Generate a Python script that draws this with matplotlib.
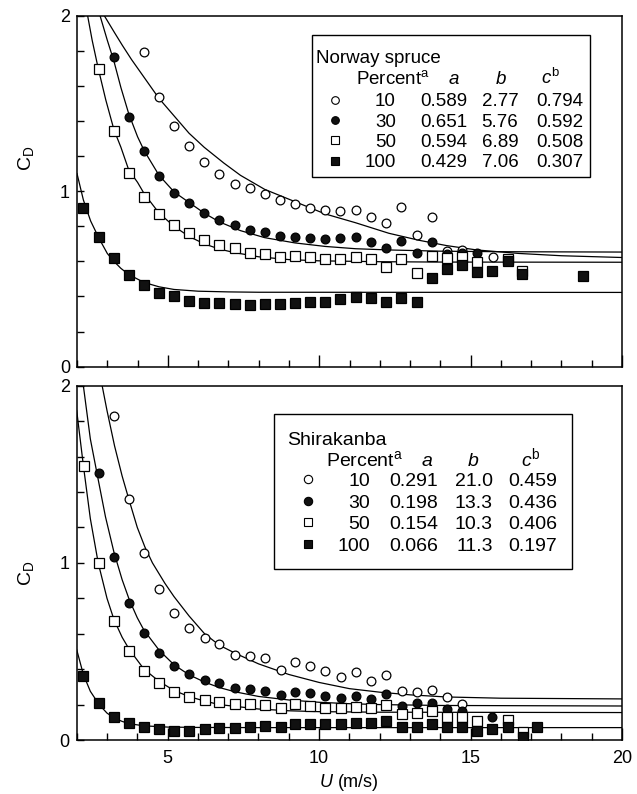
import matplotlib
matplotlib.use("Agg")
import matplotlib.pyplot as plt
from matplotlib.ticker import MultipleLocator
from matplotlib.patches import Rectangle

plt.rcParams['font.family'] = ['Liberation Sans', 'DejaVu Sans']
plt.rcParams['mathtext.fontset'] = 'custom'
plt.rcParams['mathtext.rm'] = 'Liberation Sans'
plt.rcParams['mathtext.it'] = 'Liberation Sans:italic'

# ---- Norway spruce: measured points (U in m/s, C_D) ----
u10_ns = [4.21, 4.71, 5.20, 5.70, 6.21, 6.70, 7.22, 7.71, 8.22, 8.71, 9.20, 9.70,
          10.20, 10.70, 11.22, 11.72, 12.21, 12.71, 13.22, 13.71, 14.21, 14.72, 15.73]
cd10_ns = [1.795, 1.535, 1.371, 1.257, 1.164, 1.098, 1.043, 1.016, 0.984, 0.950, 0.929, 0.905,
           0.895, 0.889, 0.893, 0.855, 0.817, 0.912, 0.750, 0.851, 0.658, 0.665, 0.623]
u30_ns = [3.22, 3.71, 4.21, 4.71, 5.20, 5.70, 6.21, 6.70, 7.22, 7.71, 8.22, 8.71, 9.20,
          9.70, 10.20, 10.70, 11.22, 11.72, 12.21, 12.71, 13.22, 13.71, 14.21, 14.72, 15.21]
cd30_ns = [1.766, 1.425, 1.231, 1.086, 0.991, 0.931, 0.877, 0.836, 0.807, 0.781, 0.769, 0.745, 0.739,
           0.731, 0.726, 0.732, 0.737, 0.712, 0.678, 0.718, 0.650, 0.709, 0.640, 0.645, 0.645]
u50_ns = [2.73, 3.22, 3.71, 4.21, 4.71, 5.20, 5.70, 6.21, 6.70, 7.22, 7.71, 8.22, 8.71, 9.20,
          9.70, 10.20, 10.70, 11.22, 11.72, 12.21, 12.71, 13.22, 13.71, 14.21, 14.72, 15.21, 16.22, 16.71]
cd50_ns = [1.696, 1.345, 1.105, 0.969, 0.868, 0.807, 0.760, 0.722, 0.693, 0.674, 0.648, 0.642, 0.627, 0.629,
           0.623, 0.612, 0.614, 0.627, 0.614, 0.570, 0.614, 0.532, 0.631, 0.618, 0.627, 0.598, 0.615, 0.545]
u100_ns = [2.21, 2.73, 3.22, 3.71, 4.21, 4.71, 5.20, 5.70, 6.21, 6.70, 7.22, 7.71, 8.22, 8.71, 9.20, 9.70,
           10.20, 10.70, 11.22, 11.72, 12.21, 12.71, 13.22, 13.71, 14.21, 14.72, 15.21, 15.70, 16.22, 16.71, 18.72]
cd100_ns = [0.902, 0.741, 0.617, 0.520, 0.465, 0.422, 0.403, 0.376, 0.365, 0.361, 0.357, 0.352, 0.355, 0.355, 0.365, 0.370,
            0.370, 0.384, 0.395, 0.390, 0.370, 0.390, 0.367, 0.504, 0.557, 0.577, 0.541, 0.545, 0.600, 0.526, 0.519]

# fitted curves
fu10_ns = [2.90, 3.25, 3.50, 3.80, 4.25, 4.70, 5.20, 5.70, 6.20, 6.85, 7.40, 8.20, 9.20, 10.20,
           11.20, 12.30, 13.30, 14.20, 15.20, 16.60, 18.00, 20.00]
fcd10_ns = [2.00, 1.90, 1.83, 1.75, 1.64, 1.53, 1.43, 1.33, 1.25, 1.16, 1.09, 1.01, 0.94, 0.87,
            0.82, 0.76, 0.72, 0.69, 0.665, 0.645, 0.632, 0.622]
fu30_ns = [2.76, 3.00, 3.22, 3.45, 3.71, 4.00, 4.22, 4.50, 4.71, 5.21, 5.73, 6.20, 6.70, 7.40,
           8.20, 9.20, 10.20, 11.20, 12.30, 14.00, 16.00, 20.00]
fcd30_ns = [2.00, 1.86, 1.74, 1.59, 1.44, 1.31, 1.23, 1.15, 1.09, 0.995, 0.932, 0.875, 0.825, 0.775,
            0.735, 0.705, 0.685, 0.672, 0.665, 0.658, 0.655, 0.653]
fu50_ns = [2.35, 2.50, 2.70, 2.95, 3.22, 3.45, 3.71, 4.00, 4.22, 4.71, 5.20, 5.70, 6.20, 6.70,
           7.20, 8.00, 9.00, 10.00, 12.00, 14.00, 20.00]
fcd50_ns = [2.00, 1.86, 1.70, 1.52, 1.35, 1.25, 1.12, 1.05, 0.985, 0.875, 0.80, 0.742, 0.70, 0.67,
            0.65, 0.626, 0.61, 0.603, 0.598, 0.596, 0.595]
fu100_ns = [2.00, 2.21, 2.45, 2.73, 3.00, 3.22, 3.45, 3.71, 4.21, 4.71, 5.20, 6.00, 7.00, 8.00, 20.00]
fcd100_ns = [1.10, 0.95, 0.83, 0.73, 0.645, 0.60, 0.56, 0.525, 0.48, 0.455, 0.44, 0.43, 0.426, 0.424, 0.423]

# ---- Shirakanba: measured points ----
u10_sh = [3.23, 3.74, 4.22, 4.73, 5.21, 5.71, 6.22, 6.71, 7.23, 7.71, 8.23, 8.73,
          9.21, 9.71, 10.21, 10.71, 11.23, 11.73, 12.22, 12.74, 13.23, 13.72, 14.23, 14.73]
cd10_sh = [1.831, 1.358, 1.057, 0.850, 0.719, 0.634, 0.574, 0.542, 0.480, 0.474, 0.461, 0.395,
           0.442, 0.416, 0.388, 0.354, 0.386, 0.333, 0.367, 0.278, 0.269, 0.282, 0.245, 0.201]
u30_sh = [2.74, 3.23, 3.74, 4.22, 4.73, 5.21, 5.71, 6.22, 6.71, 7.23, 7.71, 8.23, 8.73,
          9.21, 9.71, 10.21, 10.71, 11.23, 11.73, 12.22, 12.74, 13.23, 13.72, 14.23, 14.73, 15.72]
cd30_sh = [1.505, 1.031, 0.771, 0.602, 0.493, 0.418, 0.373, 0.339, 0.320, 0.292, 0.286, 0.278, 0.254,
           0.273, 0.267, 0.250, 0.235, 0.248, 0.230, 0.260, 0.192, 0.207, 0.211, 0.173, 0.165, 0.132]
u50_sh = [2.24, 2.74, 3.23, 3.74, 4.22, 4.73, 5.21, 5.71, 6.22, 6.71, 7.23, 7.71, 8.23, 8.73, 9.21,
          9.71, 10.21, 10.71, 11.23, 11.73, 12.22, 12.74, 13.23, 13.72, 14.23, 14.73, 15.22, 16.23, 16.73]
cd50_sh = [1.547, 0.997, 0.674, 0.504, 0.391, 0.324, 0.273, 0.245, 0.226, 0.216, 0.203, 0.203, 0.198, 0.179, 0.203,
           0.193, 0.183, 0.179, 0.188, 0.179, 0.198, 0.147, 0.154, 0.165, 0.132, 0.132, 0.107, 0.113, 0.045]
u100_sh = [2.22, 2.74, 3.23, 3.74, 4.22, 4.73, 5.21, 5.71, 6.22, 6.71, 7.23, 7.71, 8.23, 8.73, 9.21, 9.71,
           10.21, 10.71, 11.23, 11.73, 12.22, 12.74, 13.23, 13.72, 14.23, 14.73, 15.22, 15.72, 16.23, 16.73, 17.20]
cd100_sh = [0.361, 0.211, 0.128, 0.094, 0.071, 0.060, 0.053, 0.053, 0.060, 0.066, 0.066, 0.071, 0.079, 0.075, 0.090, 0.090,
            0.090, 0.088, 0.094, 0.094, 0.107, 0.075, 0.071, 0.090, 0.071, 0.071, 0.053, 0.060, 0.071, 0.019, 0.071]

fu10_sh = [2.84, 3.00, 3.25, 3.50, 3.72, 4.00, 4.25, 4.50, 4.91, 5.21, 5.71, 6.22, 6.71, 7.23,
           8.00, 9.00, 10.00, 11.00, 12.00, 13.00, 14.20, 16.00, 20.00]
fcd10_sh = [2.00, 1.86, 1.66, 1.49, 1.36, 1.20, 1.09, 1.00, 0.885, 0.81, 0.70, 0.60, 0.535, 0.49,
            0.43, 0.37, 0.325, 0.29, 0.27, 0.255, 0.243, 0.236, 0.232]
fu30_sh = [2.22, 2.45, 2.71, 2.95, 3.23, 3.50, 3.74, 4.00, 4.22, 4.73, 5.21, 5.71, 6.22, 6.71,
           7.23, 8.00, 9.00, 10.00, 11.00, 12.00, 14.00, 20.00]
fcd30_sh = [2.00, 1.70, 1.47, 1.26, 1.06, 0.905, 0.79, 0.69, 0.62, 0.505, 0.425, 0.368, 0.327, 0.296,
            0.272, 0.246, 0.226, 0.213, 0.205, 0.200, 0.195, 0.192]
fu50_sh = [2.00, 2.22, 2.45, 2.71, 3.00, 3.23, 3.50, 3.74, 4.22, 4.73, 5.21, 5.71, 6.22, 6.71,
           7.23, 8.00, 9.00, 10.00, 12.00, 20.00]
fcd50_sh = [1.86, 1.55, 1.25, 1.00, 0.80, 0.68, 0.58, 0.51, 0.40, 0.33, 0.28, 0.245, 0.22, 0.20,
            0.19, 0.175, 0.165, 0.16, 0.157, 0.155]
fu100_sh = [2.00, 2.22, 2.45, 2.74, 3.00, 3.23, 3.50, 3.74, 4.22, 5.00, 6.00, 8.00, 20.00]
fcd100_sh = [0.51, 0.37, 0.275, 0.20, 0.152, 0.125, 0.105, 0.092, 0.08, 0.073, 0.071, 0.07, 0.07]

# ---- fit parameter tables ----
percent = ["10", "30", "50", "100"]
a_ns = ["0.589", "0.651", "0.594", "0.429"]
b_ns = ["2.77", "5.76", "6.89", "7.06"]
c_ns = ["0.794", "0.592", "0.508", "0.307"]
a_sh = ["0.291", "0.198", "0.154", "0.066"]
b_sh = ["21.0", "13.3", "10.3", "11.3"]
c_sh = ["0.459", "0.436", "0.406", "0.197"]

# open circle, filled circle, open square, filled square
styles = [('o', 'white', 6.3), ('o', '#111111', 6.3), ('s', 'white', 6.6), ('s', '#111111', 6.6)]


def setup_axes(ax, show_xlabels):
    ax.set_xlim(2, 20)
    ax.set_ylim(0, 2)
    ax.xaxis.set_major_locator(MultipleLocator(5))
    ax.xaxis.set_minor_locator(MultipleLocator(1))
    ax.yaxis.set_major_locator(MultipleLocator(1))
    ax.yaxis.set_minor_locator(MultipleLocator(0.2))
    ax.tick_params(which='both', direction='in', top=False, right=False, width=1,
                   labelsize=13)
    ax.tick_params(axis='x', which='major', length=9, pad=7)
    ax.tick_params(axis='x', which='minor', length=5)
    ax.tick_params(axis='y', which='both', length=5, pad=5)
    ax.tick_params(labelbottom=show_xlabels)
    for sp in ax.spines.values():
        sp.set_linewidth(1.1)


def draw_panel(ax, points, curves):
    for u, c in curves:
        ax.plot(u, c, color='black', lw=0.9, zorder=2)
    for i, (u, c) in enumerate(points):
        m, fc, ms = styles[i]
        ax.plot(u, c, ls='none', marker=m, ms=ms, mfc=fc, mec='black', mew=0.9,
                zorder=3 + i)


def draw_table(ax, title, a_vals, b_vals, c_vals, box, fs, ms, title_x, title_y, head_y,
               row_y, mark_y, mark_x, cols, head_cols):
    x0, y0, x1, y1 = box
    ax.add_patch(Rectangle((x0, y0), x1 - x0, y1 - y0, transform=ax.transAxes,
                           fill=False, lw=1.0, ec='black', zorder=10))
    ax.text(title_x, title_y, title, transform=ax.transAxes, fontsize=fs,
            ha='left', va='baseline', zorder=11)
    ax.text(head_cols[0], head_y, r"Percent$^{\mathrm{a}}$", transform=ax.transAxes,
            fontsize=fs, ha='right', va='baseline', zorder=11)
    ax.text(head_cols[1], head_y, r"$a$", transform=ax.transAxes, fontsize=fs,
            ha='center', va='baseline', zorder=11)
    ax.text(head_cols[2], head_y, r"$b$", transform=ax.transAxes, fontsize=fs,
            ha='center', va='baseline', zorder=11)
    ax.text(head_cols[3], head_y, r"$c^{\mathrm{b}}$", transform=ax.transAxes, fontsize=fs,
            ha='center', va='baseline', zorder=11)
    for i in range(4):
        m, fc, _ = styles[i]
        ax.plot([mark_x], [mark_y[i]], transform=ax.transAxes, marker=m, ms=ms,
                mfc=fc, mec='black', mew=0.8, clip_on=False, zorder=11)
        for x, txt in zip(cols, [percent[i], a_vals[i], b_vals[i], c_vals[i]]):
            ax.text(x, row_y[i], txt, transform=ax.transAxes, fontsize=fs,
                    ha='right', va='baseline', zorder=11)


fig = plt.figure(figsize=(6.37, 7.94), dpi=100)
ax1 = fig.add_axes([0.1209, 0.5382, 0.8556, 0.4421])
ax2 = fig.add_axes([0.1204, 0.0680, 0.8561, 0.4462])

setup_axes(ax1, False)
setup_axes(ax2, True)

draw_panel(ax1,
           [(u10_ns, cd10_ns), (u30_ns, cd30_ns), (u50_ns, cd50_ns), (u100_ns, cd100_ns)],
           [(fu10_ns, fcd10_ns), (fu30_ns, fcd30_ns), (fu50_ns, fcd50_ns), (fu100_ns, fcd100_ns)])
draw_panel(ax2,
           [(u10_sh, cd10_sh), (u30_sh, cd30_sh), (u50_sh, cd50_sh), (u100_sh, cd100_sh)],
           [(fu10_sh, fcd10_sh), (fu30_sh, fcd30_sh), (fu50_sh, fcd50_sh), (fu100_sh, fcd100_sh)])

draw_table(ax1, "Norway spruce", a_ns, b_ns, c_ns,
           box=(0.4306, 0.541, 0.9413, 0.945), fs=13.5, ms=5.5,
           title_x=0.438, title_y=0.8644, head_y=0.8054,
           row_y=[0.7427, 0.6838, 0.6268, 0.5681],
           mark_y=[0.7607, 0.7018, 0.6448, 0.5861], mark_x=0.4734,
           cols=[0.5848, 0.7161, 0.8097, 0.929],
           head_cols=[0.6477, 0.6912, 0.7774, 0.8679])
draw_table(ax2, "Shirakanba", a_sh, b_sh, c_sh,
           box=(0.3624, 0.482, 0.9077, 0.919), fs=14, ms=6,
           title_x=0.3862, title_y=0.8326, head_y=0.7734,
           row_y=[0.7169, 0.6557, 0.5947, 0.5343],
           mark_y=[0.7367, 0.6754, 0.6145, 0.5541], mark_x=0.4247,
           cols=[0.5379, 0.6631, 0.7629, 0.8813],
           head_cols=[0.599, 0.6418, 0.7262, 0.8326])

ax1.set_ylabel(r"C$_{\mathrm{D}}$", fontsize=14)
ax1.yaxis.set_label_coords(-0.075, 0.595)
ax2.set_ylabel(r"C$_{\mathrm{D}}$", fontsize=14)
ax2.yaxis.set_label_coords(-0.075, 0.471)
ax2.set_xlabel(r"$U$ (m/s)", fontsize=13, labelpad=4)

fig.savefig("out.png", dpi=100)
